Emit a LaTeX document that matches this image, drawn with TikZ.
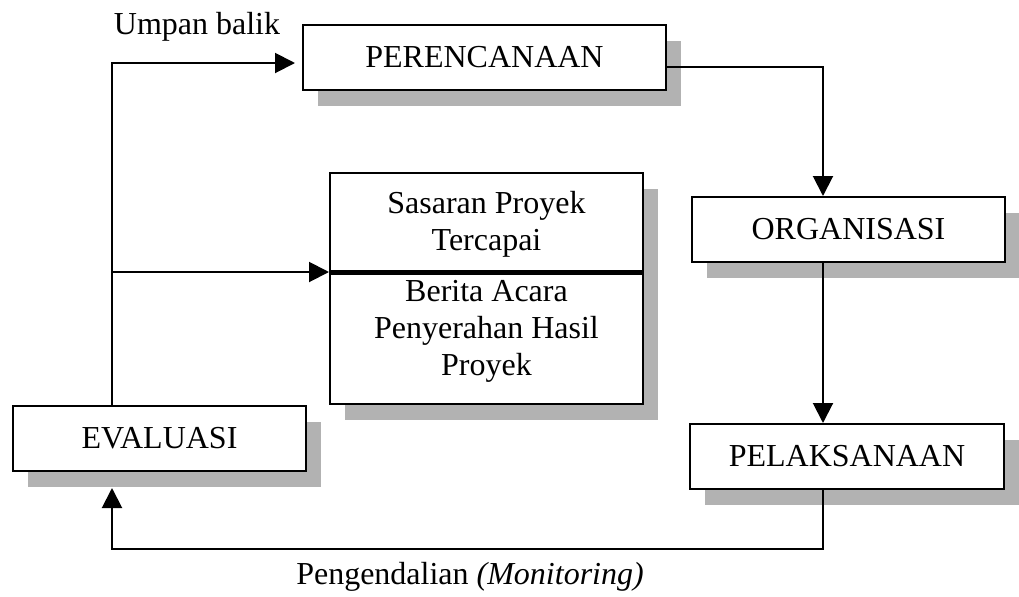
\documentclass[tikz,border=0pt]{standalone}
\usepackage{fontspec}
\setmainfont{Liberation Serif}
\usetikzlibrary{arrows.meta,calc,shadows}

\begin{document}
\begin{tikzpicture}[x=0.5pt,y=-0.5pt,
  txt/.style={font=\fontsize{16}{18.5}\selectfont},
  box/.style={draw,line width=1pt,fill=white,inner sep=0pt,txt,
    general shadow={fill=black!30,shadow xshift=7.5pt,shadow yshift=-8pt}},
  link/.style={line width=1pt,-{Triangle[length=10pt,width=10pt]}}]
\useasboundingbox (0,0) rectangle (1019,596);

% process boxes
\node[box,minimum width=181.5pt,minimum height=32.5pt] (per) at (484.5,57.5) {PERENCANAAN};
\node[box,minimum width=156.5pt,minimum height=32.5pt] (org) at (848.5,229.5) {ORGANISASI};
\node[box,minimum width=157pt,minimum height=32.5pt] (pel) at (847,456.5) {PELAKSANAAN};
\node[box,minimum width=146.5pt,minimum height=32.5pt] (eva) at (159.5,438.5) {EVALUASI};

% result box with two sections
\node[box,minimum width=156.5pt,minimum height=115.5pt] (sas) at (486.5,288.5) {};
\node[txt,align=center] (sasTxt) at (486.5,224) {Sasaran Proyek\\Tercapai};
\node[txt,align=center] (berTxt) at (486.5,331) {Berita Acara\\Penyerahan Hasil\\Proyek};
\coordinate (split) at (0,272);
\draw[line width=2.5pt] (sas.west |- split) -- (sas.east |- split);

% routing coordinates
\coordinate (fbTop) at (112,63);
\coordinate (fbMid) at (112,272);
\coordinate (colR) at (823,0);
\coordinate (bot) at (0,549);

% connectors
\draw[link] (eva.north -| fbTop) -- (fbTop) -- ($(per.west |- fbTop)+(-7,0)$);
\draw[link] (fbMid) -- (sas.west |- fbMid);
\draw[link] ($(per.east)+(0,9.5)$) -| (org.north -| colR);
\draw[link] (org.south -| colR) -- (pel.north -| colR);
\draw[link] (pel.south -| colR) -- (colR |- bot) -- (fbTop |- bot) -- ($(eva.south -| fbTop)+(0,16)$);

% labels
\node[txt] (umpan) at (197,27) {Umpan balik};
\node[txt] (pengendalian) at (470,577) {Pengendalian \textit{(Monitoring)}};
\end{tikzpicture}
\end{document}
